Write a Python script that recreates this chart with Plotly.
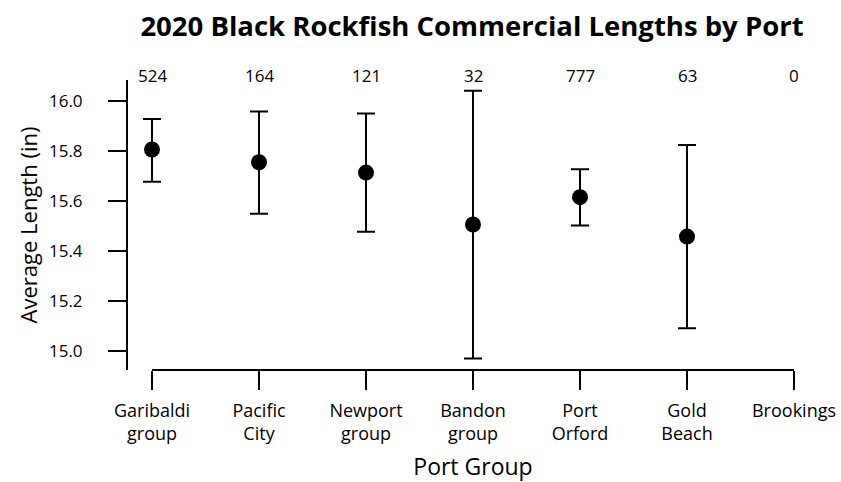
import plotly.graph_objects as go

ports = ["Garibaldi<br>group", "Pacific<br>City", "Newport<br>group", "Bandon<br>group",
         "Port<br>Orford", "Gold<br>Beach", "Brookings"]
counts = ["524", "164", "121", "32", "777", "63", "0"]
mean_len = [15.805, 15.754, 15.713, 15.506, 15.615, 15.458, None]
upper = [15.927, 15.956, 15.948, 16.039, 15.726, 15.823, None]
lower = [15.676, 15.549, 15.477, 14.972, 15.502, 15.092, None]
y_ticks = [15.0, 15.2, 15.4, 15.6, 15.8, 16.0]

xs = list(range(len(ports)))
err_plus = [None if m is None else u - m for m, u in zip(mean_len, upper)]
err_minus = [None if m is None else m - l for m, l in zip(mean_len, lower)]

FONT = "Open Sans"
W, H = 841, 482
ml, mr, mt, mb = 100, 10, 80, 112
pw = W - ml - mr

# pixel layout of the category axis (first tick -> last tick)
x_first_px, x_last_px = 152, 794
ppu = (x_last_px - x_first_px) / (xs[-1] - xs[0])
pad = 0.3
xr = [xs[0] - pad, xs[-1] + pad]
dom = [(x_first_px - pad * ppu - ml) / pw, (x_last_px + pad * ppu - ml) / pw]

fig = go.Figure()
fig.add_trace(go.Scatter(
    x=xs, y=mean_len, mode="markers",
    marker=dict(color="black", size=16),
    error_y=dict(type="data", symmetric=False, array=err_plus, arrayminus=err_minus,
                 color="black", thickness=2, width=9),
    cliponaxis=False, showlegend=False, hoverinfo="skip",
))

# category axis line spanning first to last category only
fig.add_shape(type="line", xref="x", yref="paper", x0=xs[0], x1=xs[-1], y0=0, y1=0,
              line=dict(color="black", width=2))

for x, c in zip(xs, counts):
    fig.add_annotation(x=x, xref="x", y=1, yref="paper", yanchor="middle", yshift=5,
                       text=c, showarrow=False, font=dict(family=FONT, size=17, color="black"))

fig.update_layout(
    width=W, height=H,
    margin=dict(l=ml, r=mr, t=mt, b=mb),
    paper_bgcolor="white", plot_bgcolor="white",
    font=dict(family=FONT, color="black"),
    title=dict(text="<b>2020 Black Rockfish Commercial Lengths by Port</b>",
               x=472 / W, xref="container", xanchor="center",
               y=1 - 26 / H, yref="container", yanchor="middle",
               font=dict(family=FONT, size=27.5, color="black")),
    xaxis=dict(
        domain=dom, range=xr, tickvals=xs, ticktext=ports,
        showline=False, automargin=False,
        ticks="outside", ticklen=19, tickwidth=2, tickcolor="black",
        ticklabelstandoff=5,
        showgrid=False, zeroline=False,
        tickfont=dict(family=FONT, size=18, color="black"),
        title=dict(text="Port Group", font=dict(family=FONT, size=23, color="black"), standoff=15),
    ),
    yaxis=dict(
        anchor="free", position=(127 - ml) / pw, automargin=False,
        range=[14.926, 16.082], tickvals=y_ticks, ticktext=[f"{v:.1f}" for v in y_ticks],
        showline=True, linecolor="black", linewidth=2,
        ticks="outside", ticklen=18, tickwidth=2, tickcolor="black",
        ticklabelstandoff=22,
        showgrid=False, zeroline=False,
        tickfont=dict(family=FONT, size=17, color="black"),
        title=dict(text="Average Length (in)", font=dict(family=FONT, size=22, color="black"), standoff=4),
    ),
)

fig.write_html("out.html", config={"displayModeBar": False},
               post_script="document.body.style.margin='0';")
